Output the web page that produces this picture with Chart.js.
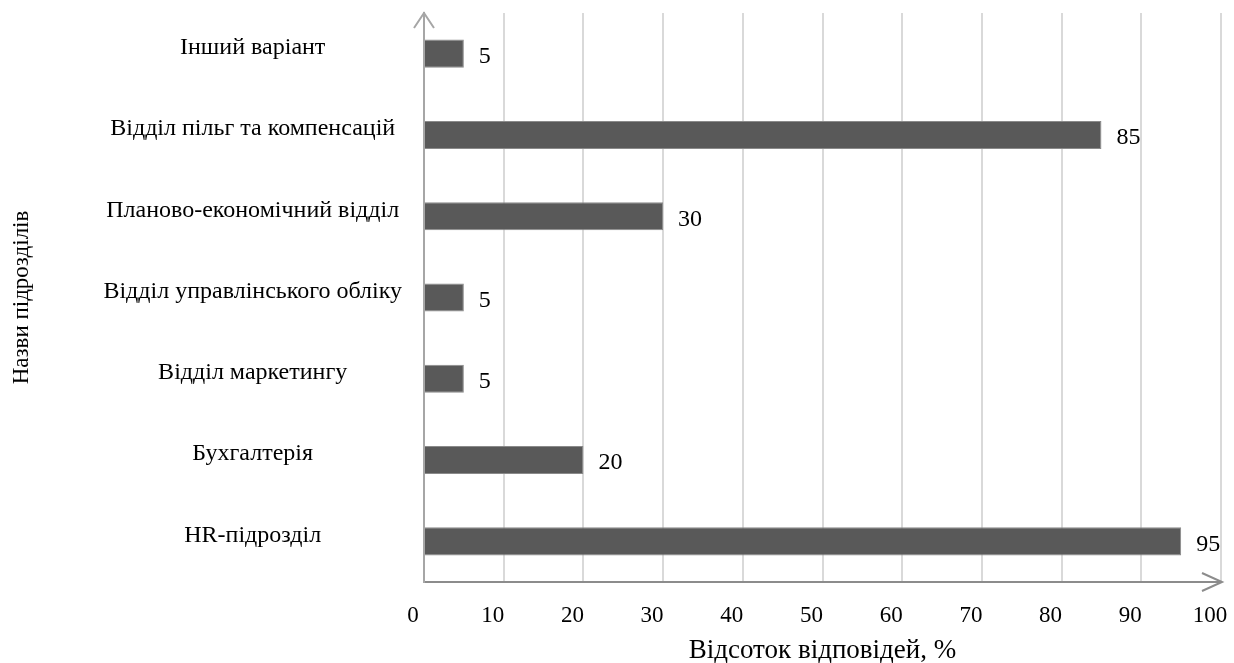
<!DOCTYPE html>
<html lang="uk">
<head>
<meta charset="utf-8">
<title>Назви підрозділів</title>
<script src="https://cdn.jsdelivr.net/npm/chart.js@4"></script>
<style>
  html, body { margin: 0; padding: 0; background: #fff; }
  #wrap { width: 1234px; height: 663px; position: relative; }
</style>
</head>
<body>
<div id="wrap"><canvas id="deptChart"></canvas></div>
<script>
// ── Data ─────────────────────────────────────────────────────────────────────
const DEPARTMENTS = [
  'Інший варіант',
  'Відділ пільг та компенсацій',
  'Планово-економічний відділ',
  'Відділ управлінського обліку',
  'Відділ маркетингу',
  'Бухгалтерія',
  'HR-підрозділ',
];
const SHARES = [5, 85, 30, 5, 5, 20, 95];
const X_MIN = 0, X_MAX = 100, X_STEP = 10;
const X_TITLE = 'Відсоток відповідей, %';
const Y_TITLE = 'Назви підрозділів';

const FONT = "'Liberation Serif', 'Times New Roman', serif";
const BAR_FILL = '#595959';
const GRID = '#d9d9d9';

// value printed to the right of each bar
const valueLabels = {
  id: 'valueLabels',
  afterDatasetsDraw(chart) {
    const { ctx } = chart;
    const meta = chart.getDatasetMeta(0);
    ctx.save();
    ctx.font = `24px ${FONT}`;
    ctx.fillStyle = '#000';
    ctx.textAlign = 'left';
    ctx.textBaseline = 'middle';
    meta.data.forEach((bar, i) => {
      ctx.fillText(String(SHARES[i]), bar.x + 15, bar.y + 3);
    });
    ctx.restore();
  },
};

// arrow heads at the ends of both axes
const axisArrows = {
  id: 'axisArrows',
  afterDraw(chart) {
    const { ctx, chartArea: a } = chart;
    ctx.save();
    ctx.lineWidth = 2;
    ctx.strokeStyle = '#a6a6a6';
    ctx.beginPath();
    ctx.moveTo(a.left - 10, a.top + 15);
    ctx.lineTo(a.left, a.top);
    ctx.lineTo(a.left + 10, a.top + 15);
    ctx.stroke();
    ctx.strokeStyle = '#8c8c8c';
    ctx.beginPath();
    ctx.moveTo(a.right - 19, a.bottom - 9);
    ctx.lineTo(a.right + 1, a.bottom);
    ctx.lineTo(a.right - 19, a.bottom + 9);
    ctx.stroke();
    ctx.restore();
  },
};

new Chart(document.getElementById('deptChart'), {
  type: 'bar',
  data: {
    labels: DEPARTMENTS,
    datasets: [{
      data: SHARES,
      backgroundColor: BAR_FILL,
      borderColor: '#8a8a8a',
      borderWidth: 1,
      barPercentage: 0.345,
      categoryPercentage: 1,
    }],
  },
  options: {
    indexAxis: 'y',
    responsive: true,
    maintainAspectRatio: false,
    animation: false,
    layout: { padding: { left: 8, top: 13, right: 13, bottom: 0 } },
    plugins: { legend: { display: false }, tooltip: { enabled: false } },
    scales: {
      x: {
        min: X_MIN,
        max: X_MAX,
        ticks: {
          stepSize: X_STEP,
          color: '#000',
          font: { family: FONT, size: 23 },
          padding: 20,
          labelOffset: -11,
          maxRotation: 0,
        },
        grid: {
          color: c => (c.tick && c.tick.value === 0 ? 'rgba(0,0,0,0)' : GRID),
          lineWidth: 2,
          drawTicks: false,
        },
        border: { color: '#8c8c8c', width: 2 },
        title: {
          display: true,
          text: X_TITLE,
          color: '#000',
          font: { family: FONT, size: 27, lineHeight: 0.9 },
          padding: { top: 0, bottom: 0 },
        },
        afterFit(scale) {
          scale.height = 81;
          scale.paddingLeft = 0;
          scale.paddingRight = 0;
        },
      },
      y: {
        ticks: {
          color: '#000',
          font: { family: FONT, size: 24 },
          crossAlign: 'center',
          padding: 22,
          labelOffset: -6,
        },
        grid: { display: false, drawTicks: false },
        border: { color: '#a6a6a6', width: 2 },
        title: {
          display: true,
          text: Y_TITLE,
          color: '#000',
          font: { family: FONT, size: 23 },
          padding: { top: 0, bottom: 0 },
        },
        afterFit(scale) {
          scale.width = 416;
          scale.paddingTop = 0;
          scale.paddingBottom = 0;
        },
      },
    },
  },
  plugins: [valueLabels, axisArrows],
});
</script>
</body>
</html>
